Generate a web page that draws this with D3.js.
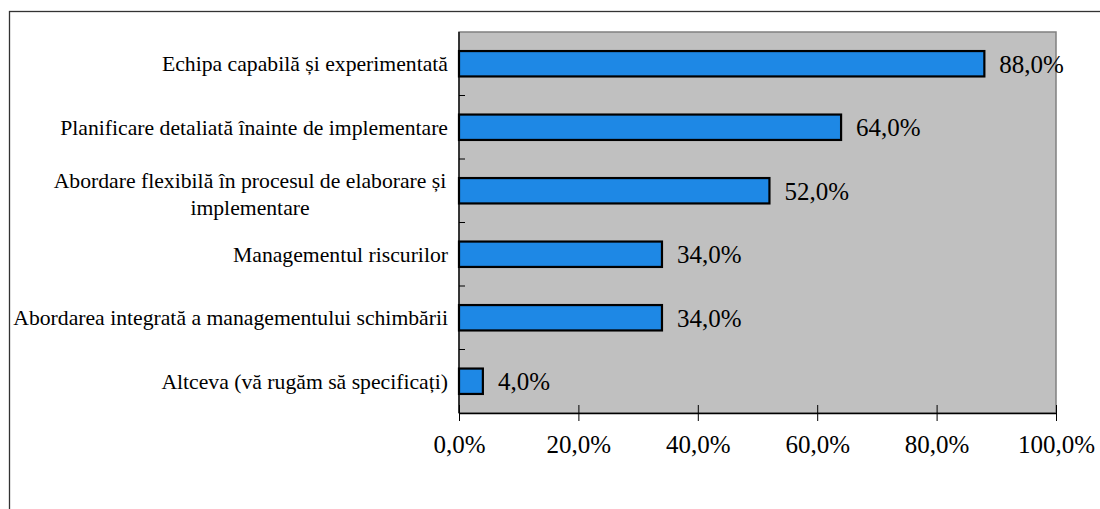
<!DOCTYPE html>
<html>
<head>
<meta charset="utf-8">
<script src="https://cdn.jsdelivr.net/npm/d3@7"></script>
<style>
  body { margin: 0; background: #fff; }
  svg text { font-family: "Liberation Serif", "DejaVu Serif", serif; fill: #000; }
</style>
</head>
<body>
<div id="chart"></div>
<script>
const categories = [
  "Echipa capabilă și experimentată",
  "Planificare detaliată înainte de implementare",
  "Abordare flexibilă în procesul de elaborare și|implementare",
  "Managementul riscurilor",
  "Abordarea integrată a managementului schimbării",
  "Altceva (vă rugăm să specificați)"
];
const values = [88, 64, 52, 34, 34, 4];
const xTicks = [0, 20, 40, 60, 80, 100];

const width = 1100, height = 509;
const plot = { left: 459, top: 32, right: 1056, bottom: 413 };
const serif = "'Liberation Serif', 'DejaVu Serif', serif";

const svg = d3.select("#chart").append("svg")
  .attr("width", width)
  .attr("height", height)
  .attr("font-family", serif);

// outer chart frame (right and bottom run off the picture)
svg.append("rect")
  .attr("x", 9.5).attr("y", 11.5)
  .attr("width", 1200).attr("height", 600)
  .attr("fill", "none").attr("stroke", "#333").attr("stroke-width", 1.3);

const x = d3.scaleLinear().domain([0, 100]).range([plot.left, plot.right]);
const y = d3.scaleBand().domain(categories).range([plot.top, plot.bottom]).paddingInner(0.6).paddingOuter(0.3);
const yEdges = d3.scaleLinear().domain([0, categories.length]).range([plot.top, plot.bottom]);

svg.append("rect")
  .attr("x", plot.left).attr("y", plot.top)
  .attr("width", plot.right - plot.left).attr("height", plot.bottom - plot.top)
  .attr("fill", "#C0C0C0").attr("stroke", "#808080").attr("stroke-width", 1.5);

// y axis with ticks between categories, pointing inside
const yAxis = svg.append("g");
yAxis.append("line")
  .attr("x1", plot.left).attr("x2", plot.left)
  .attr("y1", plot.top).attr("y2", plot.bottom)
  .attr("stroke", "#000").attr("stroke-width", 1.3);
yAxis.selectAll("line.tick")
  .data(d3.range(1, categories.length))
  .join("line")
  .attr("class", "tick")
  .attr("x1", plot.left).attr("x2", plot.left + 6)
  .attr("y1", d => yEdges(d)).attr("y2", d => yEdges(d))
  .attr("stroke", "#000").attr("stroke-width", 1);

// x axis
const xAxis = svg.append("g").attr("transform", `translate(0,${plot.bottom})`)
  .call(d3.axisBottom(x).tickValues(xTicks).tickSizeInner(8).tickSizeOuter(0)
    .tickFormat(d => d.toFixed(1).replace(".", ",") + "%"));
xAxis.attr("font-family", serif).attr("font-size", 25);
xAxis.select(".domain").attr("stroke", "#000").attr("stroke-width", 1.3);
xAxis.selectAll(".tick line").attr("y1", -8).attr("stroke", "#000");
xAxis.selectAll(".tick text").attr("dy", 0).attr("y", 40);

// category labels
svg.append("g").selectAll("text")
  .data(categories)
  .join("text")
  .attr("text-anchor", "middle")
  .attr("font-size", 21.7)
  .each(function (d) {
    const lines = d.split("|");
    const t = d3.select(this);
    const cy = y(d) + y.bandwidth() / 2;
    if (lines.length === 1) {
      t.attr("text-anchor", "end").attr("x", plot.left - 11).attr("y", cy).attr("dy", "0.35em").text(lines[0]);
    } else {
      const cx = 250;
      lines.forEach((ln, i) => {
        t.append("tspan")
          .attr("x", cx)
          .attr("y", cy + 3 + (i - (lines.length - 1) / 2) * 27)
          .attr("dy", "0.35em")
          .text(ln);
      });
    }
  });

// bars
svg.append("g").selectAll("rect")
  .data(values)
  .join("rect")
  .attr("x", x(0))
  .attr("y", (d, i) => y(categories[i]))
  .attr("width", d => x(d) - x(0))
  .attr("height", y.bandwidth())
  .attr("fill", "#1E88E5")
  .attr("stroke", "#000")
  .attr("stroke-width", 2.2);

// value labels
svg.append("g").selectAll("text")
  .data(values)
  .join("text")
  .attr("x", d => x(d) + 15)
  .attr("y", (d, i) => y(categories[i]) + y.bandwidth() / 2)
  .attr("dy", "0.35em")
  .attr("font-size", 25)
  .text(d => d.toFixed(1).replace(".", ",") + "%");
</script>
</body>
</html>
